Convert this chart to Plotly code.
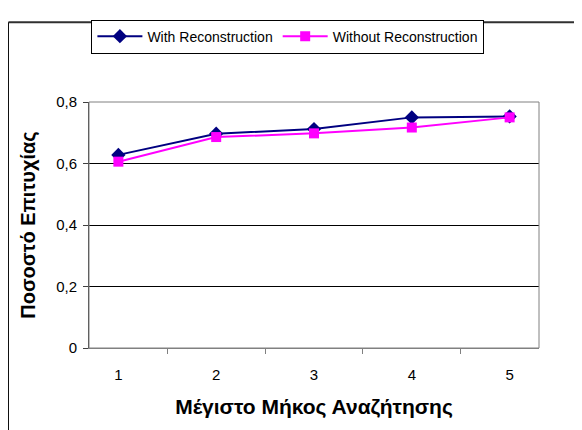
import plotly.graph_objects as go

categories = ["1", "2", "3", "4", "5"]
with_recon = [0.628, 0.697, 0.712, 0.750, 0.753]
without_recon = [0.606, 0.686, 0.698, 0.717, 0.750]
y_ticks = [0, 0.2, 0.4, 0.6, 0.8]

fig = go.Figure()
fig.add_trace(go.Scatter(
    x=categories, y=with_recon, name="With Reconstruction", mode="lines+markers",
    line=dict(color="#000080", width=2),
    marker=dict(symbol="diamond", size=11, color="#000080"),
))
fig.add_trace(go.Scatter(
    x=categories, y=without_recon, name="Without Reconstruction", mode="lines+markers",
    line=dict(color="#FF00FF", width=2),
    marker=dict(symbol="square", size=10, color="#FF00FF"),
))

font = "Liberation Sans, Arial, sans-serif"
fig.update_layout(
    width=582, height=430,
    margin=dict(l=81, r=51, t=84, b=90),
    paper_bgcolor="white", plot_bgcolor="white",
    separators=",.",
    font=dict(family=font, size=15, color="black"),
    showlegend=True,
    legend=dict(
        orientation="h", x=0.442, xanchor="center", y=1.335, yanchor="top",
        bordercolor="black", borderwidth=1, font=dict(size=14, family=font),
        tracegroupgap=0, itemwidth=45,
    ),
    xaxis=dict(
        type="category", tickson="boundaries", ticks="outside", ticklen=5,
        tickcolor="#808080", showline=True, linecolor="#808080", linewidth=1,
        showgrid=False, mirror=False, ticklabelstandoff=13,
        title=dict(text="<b>Μέγιστο Μήκος Αναζήτησης</b>", font=dict(size=21), standoff=17),
    ),
    yaxis=dict(
        range=[0, 0.8], tickvals=y_ticks, ticks="outside", ticklen=5,
        tickcolor="#404040", showline=True, linecolor="#404040", linewidth=1,
        showgrid=True, gridcolor="black", gridwidth=1, zeroline=False,
        ticklabelstandoff=3,
        title=dict(text="<b>Ποσοστό Επιτυχίας</b>", font=dict(size=20), standoff=15),
    ),
    shapes=[
        dict(type="rect", xref="paper", yref="paper", x0=0, x1=1, y0=0, y1=1,
             line=dict(color="#808080", width=1), layer="above"),
        dict(type="line", xref="paper", yref="paper", x0=-0.179, x1=1.2, y0=1.324, y1=1.324,
             line=dict(color="#303030", width=2)),
        dict(type="line", xref="paper", yref="paper", x0=-0.179, x1=-0.179, y0=1.324, y1=-0.4,
             line=dict(color="black", width=1)),
    ],
)

fig.write_html("out.html")
